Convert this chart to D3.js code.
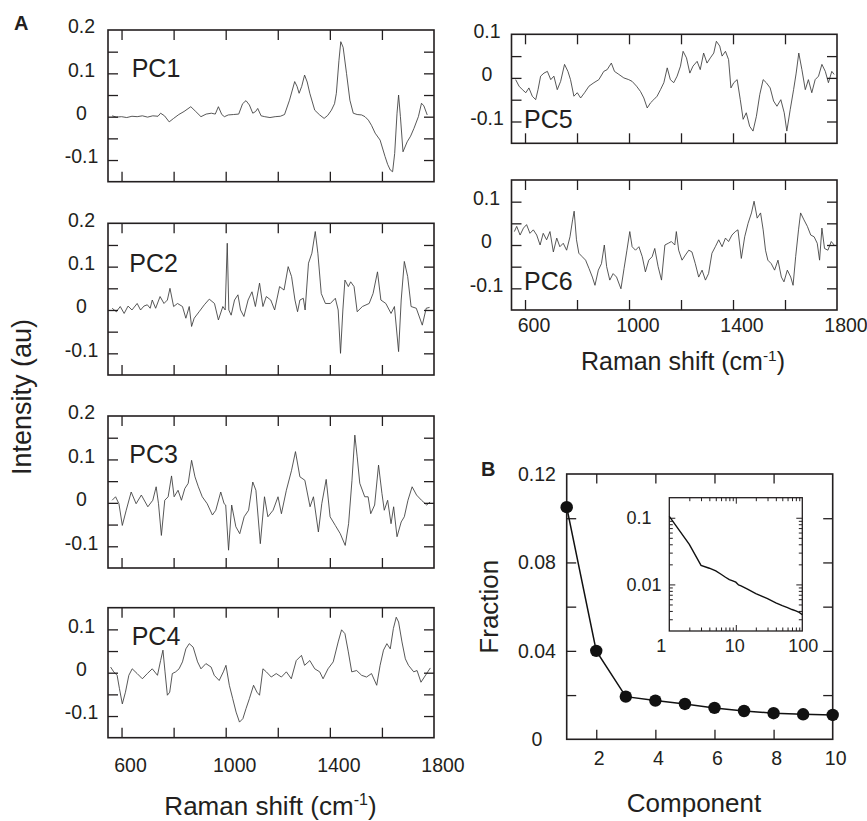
<!DOCTYPE html>
<html><head><meta charset="utf-8">
<script src="https://cdn.jsdelivr.net/npm/d3@7"></script>
<style>
body{margin:0;background:#fff;}
svg{display:block;font-family:"Liberation Sans",Arial,Helvetica,sans-serif;}
</style></head><body>
<svg id="chart" width="867" height="821"></svg>
<script>
// ---------- DATA ----------
// Spectra: [Raman shift (cm-1), intensity (au)]
const pc1 = [[564,0.002],[580,-0.001],[600,0.000],[620,-0.002],[640,0.001],[660,0.000],[680,0.002],[700,-0.001],[720,0.002],[740,0.001],
[750,0.008],[765,0.002],[783,-0.012],[800,-0.004],[820,0.005],[840,0.012],[866,0.023],[885,0.012],[905,0.000],[925,0.006],
[945,0.008],[960,0.006],[972,0.023],[985,0.005],[995,0.000],[1010,0.004],[1030,0.005],[1050,0.006],[1065,0.030],[1078,0.037],
[1091,0.027],[1104,0.008],[1115,0.012],[1123,0.019],[1136,0.002],[1150,0.000],[1170,-0.002],[1190,0.000],[1210,0.001],[1226,0.005],
[1245,0.038],[1265,0.081],[1274,0.070],[1282,0.054],[1292,0.070],[1303,0.096],[1313,0.080],[1323,0.054],[1342,0.015],[1361,0.004],
[1378,-0.004],[1392,0.003],[1406,0.015],[1418,0.030],[1425,0.054],[1435,0.130],[1442,0.173],[1451,0.160],[1464,0.100],[1477,0.038],
[1490,0.008],[1505,0.005],[1522,0.004],[1535,0.000],[1548,-0.008],[1560,-0.020],[1574,-0.038],[1593,-0.054],[1612,-0.092],[1622,-0.110],
[1632,-0.123],[1641,-0.127],[1649,-0.085],[1658,0.008],[1664,0.050],[1671,0.000],[1681,-0.081],[1697,-0.058],[1710,-0.045],[1723,-0.027],
[1740,0.000],[1752,0.031],[1761,0.025],[1774,0.004]];

const pc2 = [[564,0.004],[580,-0.004],[595,0.008],[610,-0.008],[625,0.009],[640,0.000],[660,0.015],[673,0.000],[686,0.009],[699,0.012],
[710,0.004],[718,0.023],[731,0.004],[748,0.031],[763,0.015],[776,0.023],[786,0.050],[800,0.008],[815,0.015],[834,0.008],
[847,-0.019],[860,0.008],[869,-0.038],[879,-0.019],[898,-0.004],[918,0.012],[937,0.025],[957,0.015],[972,-0.023],[989,0.008],
[998,0.000],[1006,0.154],[1012,0.000],[1021,-0.012],[1034,0.023],[1047,0.035],[1057,0.000],[1070,-0.015],[1086,0.023],[1101,0.042],
[1114,0.008],[1130,0.062],[1143,0.008],[1156,0.031],[1173,0.023],[1188,0.000],[1207,0.054],[1224,0.046],[1240,0.100],[1253,0.077],
[1266,0.023],[1276,-0.004],[1285,0.023],[1298,0.027],[1305,0.000],[1318,0.108],[1331,0.131],[1344,0.181],[1354,0.131],[1367,0.038],
[1383,0.015],[1402,0.015],[1421,0.027],[1432,0.000],[1441,-0.100],[1450,0.000],[1458,0.069],[1471,0.054],[1480,0.065],[1493,0.054],
[1505,-0.004],[1525,0.008],[1551,0.015],[1566,0.038],[1583,0.088],[1596,0.023],[1615,0.015],[1635,-0.008],[1648,0.008],[1664,-0.096],
[1674,0.023],[1686,0.112],[1699,0.077],[1712,0.008],[1732,0.004],[1755,-0.035],[1770,0.004],[1783,0.006]];

const pc3 = [[564,0.006],[577,0.014],[590,-0.002],[603,-0.052],[618,-0.017],[637,0.025],[656,-0.002],[676,0.018],[701,-0.009],[720,0.006],
[733,0.037],[742,-0.002],[753,-0.075],[766,0.006],[779,0.014],[792,0.062],[802,0.014],[817,0.029],[830,0.006],[843,0.033],
[856,0.045],[869,0.098],[882,0.060],[895,0.037],[910,0.014],[929,-0.002],[949,-0.028],[962,-0.017],[981,0.025],[994,-0.002],
[1000,-0.005],[1011,-0.109],[1023,-0.005],[1039,-0.055],[1054,-0.071],[1071,-0.032],[1088,-0.017],[1104,0.048],[1116,0.029],[1133,-0.094],
[1149,0.014],[1162,-0.032],[1182,-0.017],[1201,0.014],[1214,-0.025],[1233,0.029],[1253,0.075],[1268,0.118],[1285,0.060],[1304,0.052],
[1324,-0.009],[1337,0.014],[1356,-0.067],[1369,-0.002],[1386,0.054],[1401,-0.032],[1421,-0.052],[1440,-0.071],[1459,-0.098],[1472,-0.048],
[1485,0.052],[1496,0.156],[1505,0.106],[1515,0.045],[1534,0.014],[1547,0.014],[1557,-0.025],[1572,-0.005],[1587,0.087],[1600,0.022],
[1609,-0.017],[1622,0.006],[1635,-0.048],[1645,-0.009],[1658,-0.078],[1674,-0.044],[1686,-0.032],[1700,0.006],[1716,0.037],[1733,0.018],
[1752,0.006],[1772,-0.005],[1785,0.002]];

const pc4 = [[558,0.013],[570,0.002],[583,-0.006],[592,-0.037],[603,-0.072],[615,-0.045],[628,-0.006],[641,0.009],[660,-0.002],[680,-0.014],
[699,-0.002],[718,0.009],[738,-0.006],[750,0.028],[759,0.052],[767,0.002],[776,-0.052],[785,-0.045],[795,-0.002],[808,0.002],
[821,0.009],[834,0.025],[847,0.055],[860,0.067],[875,0.059],[892,0.025],[905,0.009],[924,0.021],[944,0.013],[956,-0.006],
[975,-0.018],[991,0.002],[1001,0.017],[1014,-0.029],[1027,-0.060],[1040,-0.091],[1053,-0.114],[1066,-0.106],[1078,-0.083],[1091,-0.060],
[1107,-0.029],[1120,-0.045],[1130,-0.052],[1143,0.009],[1156,0.002],[1175,-0.010],[1194,-0.002],[1214,-0.010],[1233,0.002],[1252,-0.014],
[1271,0.028],[1291,0.040],[1303,0.017],[1323,0.028],[1342,0.009],[1361,0.002],[1374,-0.014],[1393,0.009],[1413,0.025],[1432,0.071],
[1445,0.099],[1458,0.090],[1471,0.048],[1484,0.002],[1503,0.005],[1522,-0.006],[1541,-0.010],[1560,-0.002],[1580,-0.029],[1593,0.017],
[1606,0.052],[1619,0.067],[1632,0.055],[1644,0.102],[1655,0.128],[1664,0.117],[1677,0.071],[1690,0.032],[1702,0.017],[1722,0.002],
[1735,0.005],[1750,-0.022],[1763,-0.010],[1776,0.002],[1786,0.011]];

const pc5 = [[564,-0.004],[577,-0.019],[590,-0.027],[603,-0.034],[615,-0.023],[628,-0.042],[641,-0.050],[650,-0.027],[660,0.004],[673,0.011],
[686,0.015],[699,-0.004],[711,0.004],[724,-0.027],[737,-0.008],[752,0.031],[765,0.015],[775,-0.004],[788,-0.042],[801,-0.034],
[814,-0.046],[829,-0.034],[846,-0.019],[865,-0.011],[884,-0.004],[903,0.015],[916,0.019],[932,0.034],[944,0.015],[961,0.008],
[980,0.000],[999,-0.004],[1012,-0.008],[1029,-0.019],[1044,-0.031],[1057,-0.046],[1070,-0.069],[1083,-0.057],[1095,-0.050],[1108,-0.042],
[1121,-0.027],[1134,-0.011],[1147,0.023],[1159,-0.004],[1172,-0.011],[1185,0.004],[1198,0.027],[1208,0.061],[1221,0.046],[1234,0.011],
[1246,0.027],[1262,0.038],[1274,0.019],[1287,0.057],[1300,0.034],[1313,0.046],[1326,0.057],[1336,0.084],[1349,0.073],[1358,0.050],
[1371,0.061],[1383,0.042],[1392,-0.023],[1403,-0.011],[1416,-0.004],[1428,-0.050],[1439,-0.095],[1451,-0.080],[1464,-0.111],[1477,-0.122],
[1490,-0.088],[1503,-0.038],[1516,-0.004],[1528,-0.011],[1543,-0.023],[1556,-0.053],[1569,-0.065],[1584,-0.050],[1597,-0.080],[1607,-0.122],
[1620,-0.073],[1633,-0.027],[1643,0.011],[1653,0.057],[1665,0.019],[1678,-0.027],[1690,-0.004],[1703,-0.034],[1716,-0.004],[1729,0.004],
[1742,0.031],[1755,0.015],[1767,-0.011],[1780,0.015],[1789,0.008]];

const pc6 = [[559,0.031],[568,0.043],[581,0.023],[594,0.039],[606,0.047],[619,0.027],[632,0.035],[645,0.023],[658,0.000],[670,0.027],
[683,0.012],[696,0.031],[709,-0.016],[722,0.016],[734,-0.004],[747,0.004],[760,-0.012],[773,0.019],[783,0.058],[789,0.078],
[798,0.012],[807,-0.019],[820,-0.027],[833,-0.035],[846,-0.054],[859,-0.074],[869,-0.093],[882,-0.058],[894,-0.043],[905,0.000],
[914,-0.050],[926,-0.081],[939,-0.066],[952,-0.074],[969,-0.101],[981,-0.054],[992,-0.012],[1003,0.031],[1012,-0.004],[1025,-0.012],
[1038,-0.004],[1051,-0.027],[1063,-0.062],[1076,-0.035],[1089,-0.027],[1099,-0.008],[1112,-0.050],[1125,-0.081],[1138,0.000],[1151,0.004],
[1163,0.008],[1176,0.000],[1182,0.031],[1191,-0.012],[1204,-0.035],[1217,-0.023],[1230,-0.012],[1242,-0.016],[1255,-0.043],[1268,-0.074],
[1281,-0.058],[1294,-0.081],[1306,-0.066],[1319,-0.019],[1332,-0.004],[1345,0.012],[1358,-0.004],[1371,0.016],[1383,0.008],[1396,0.023],
[1409,0.031],[1419,0.035],[1432,-0.031],[1445,0.019],[1458,0.050],[1471,0.074],[1481,0.101],[1493,0.062],[1506,0.074],[1516,0.035],
[1525,-0.012],[1534,-0.035],[1547,-0.043],[1560,-0.058],[1573,-0.035],[1586,-0.074],[1596,-0.085],[1609,-0.058],[1622,-0.074],[1631,-0.093],
[1641,-0.027],[1652,0.035],[1660,0.074],[1673,0.058],[1686,0.043],[1699,0.023],[1712,0.019],[1724,0.004],[1733,-0.035],[1742,0.039],
[1752,-0.008],[1765,-0.012],[1778,0.008],[1789,0.000]];

// Panel B: explained variance fraction
const components = [1,2,3,4,5,6,7,8,9,10];
const fractions = [0.105,0.040,0.0193,0.0175,0.0160,0.0142,0.0128,0.0118,0.0113,0.0110];
// Inset (log-log) – all components
const insetComponents = [1,2,3,4,5,6,7,8,9,10,11,12,15,20,25,30,40,50,60,70,80,90,100];
const insetFractions = [0.105,0.040,0.0193,0.0175,0.0160,0.0142,0.0128,0.0118,0.0113,0.0108,0.0098,0.0095,0.0085,0.0073,0.0066,0.0061,0.0053,0.0048,0.0045,0.0042,0.0040,0.0038,0.0035];

// Ticks / labels
const shiftTicks = [600,800,1000,1200,1400,1600];
const shiftTickLabels = [600,1000,1400,1800];
const intensityTicksTall = [-0.1,-0.05,0,0.05,0.1,0.15];
const intensityTicksMid = [-0.1,-0.05,0,0.05,0.1];
const intensityTicksShort = [-0.1,-0.05,0,0.05];
const intensityLabelsTall = [0.2,0.1,0,-0.1];
const intensityLabelsMid = [0.1,0,-0.1];
const componentTicks = [2,4,6,8];
const componentTickLabels = [2,4,6,8,10];
const fractionTicks = [0.02,0.04,0.06,0.08,0.10];
const fractionTickLabels = [0,0.04,0.08,0.12];
const insetXLabels = [1,10,100];
const insetYLabels = [0.1,0.01];

// ---------- DRAW ----------
const svg = d3.select("#chart");
const INK = "#231f20";
const shiftDomain = [548,1800];

function inwardTicks(g, x, y, xt, yt, len, box){
  const mk = (axis, tr) => g.append("g").attr("transform", tr).call(axis.tickSize(-len).tickFormat(""));
  mk(d3.axisBottom(x).tickValues(xt), `translate(0,${box.y1})`);
  mk(d3.axisTop(x).tickValues(xt), `translate(0,${box.y0})`);
  mk(d3.axisLeft(y).tickValues(yt), `translate(${box.x0},0)`);
  mk(d3.axisRight(y).tickValues(yt), `translate(${box.x1},0)`);
  g.selectAll(".domain").remove();
  g.selectAll(".tick line").attr("stroke", INK).attr("stroke-width", 1.3);
}

function frame(g, box, w){
  g.append("rect").attr("x", box.x0).attr("y", box.y0)
    .attr("width", box.x1 - box.x0).attr("height", box.y1 - box.y0)
    .attr("fill", "none").attr("stroke", INK).attr("stroke-width", w || 1.6);
}

function spectrumPanel(c){
  const box = c.box;
  const x = d3.scaleLinear().domain(shiftDomain).range([box.x0, box.x1]);
  const y = d3.scaleLinear().domain(c.yDomain).range([box.y1, box.y0]);
  const g = svg.append("g");
  g.append("path").datum(c.data)
    .attr("d", d3.line().x(d => x(d[0])).y(d => y(d[1])))
    .attr("fill", "none").attr("stroke", "#3a3a3a").attr("stroke-width", 0.85)
    .attr("stroke-linejoin", "round");
  inwardTicks(g, x, y, shiftTicks, c.yTicks, 10, box);
  frame(g, box);
  g.selectAll(".ylab").data(c.yLabels).join("text")
    .attr("x", c.yLabelX).attr("y", d => y(d) + 3.3)
    .attr("text-anchor", "middle").attr("font-size", 19.5).attr("fill", INK)
    .text(d => d);
  g.append("text").attr("x", c.label[1]).attr("y", c.label[2])
    .attr("font-size", 25).attr("fill", INK).text(c.label[0]);
  if (c.xLabelY){
    g.selectAll(".xlab").data(shiftTickLabels).join("text")
      .attr("x", d => x(d) + 9).attr("y", c.xLabelY)
      .attr("text-anchor", "middle").attr("font-size", 19.5).attr("fill", INK)
      .text(d => d);
  }
}

const L = {x0:108, x1:434}, R = {x0:511.5, x1:837};
spectrumPanel({box:{...L, y0:30, y1:181.7}, yDomain:[-0.15,0.2], data:pc1, yTicks:intensityTicksTall, yLabels:intensityLabelsTall, yLabelX:81.5, label:["PC1",131.7,77.3]});
spectrumPanel({box:{...L, y0:223.3, y1:375}, yDomain:[-0.15,0.2], data:pc2, yTicks:intensityTicksTall, yLabels:intensityLabelsTall, yLabelX:81.5, label:["PC2",129.3,271.7]});
spectrumPanel({box:{...L, y0:416, y1:568}, yDomain:[-0.15,0.2], data:pc3, yTicks:intensityTicksTall, yLabels:intensityLabelsTall, yLabelX:81.5, label:["PC3",129.3,462.7]});
spectrumPanel({box:{...L, y0:607.7, y1:737.7}, yDomain:[-0.15,0.15], data:pc4, yTicks:intensityTicksMid, yLabels:intensityLabelsMid, yLabelX:81.5, label:["PC4",131.7,645], xLabelY:771.7});
spectrumPanel({box:{...R, y0:34.3, y1:143.3}, yDomain:[-0.15,0.1], data:pc5, yTicks:intensityTicksShort, yLabels:intensityLabelsMid, yLabelX:487, label:["PC5",524,127.7]});
spectrumPanel({box:{...R, y0:180, y1:310}, yDomain:[-0.15,0.15], data:pc6, yTicks:intensityTicksMid, yLabels:intensityLabelsMid, yLabelX:486.5, label:["PC6",524,290], xLabelY:331.7});

// Axis titles for A
function ramanTitle(cx, by, fs){
  const t = svg.append("text").attr("x", cx).attr("y", by).attr("text-anchor", "middle")
    .attr("font-size", fs).attr("fill", INK);
  t.append("tspan").text("Raman shift (cm");
  t.append("tspan").attr("dy", -fs*0.38).attr("font-size", fs*0.62).text("-1");
  t.append("tspan").attr("dy", fs*0.38).text(")");
}
ramanTitle(270.5, 815, 26);
ramanTitle(683, 370, 25);
svg.append("text").attr("transform", "translate(31,397) rotate(-90)")
  .attr("text-anchor", "middle").attr("font-size", 27).attr("fill", INK).text("Intensity (au)");

// Panel letters
svg.append("text").attr("x", 14).attr("y", 29.5).attr("font-size", 20).attr("font-weight", "bold").attr("fill", INK).text("A");
svg.append("text").attr("x", 481).attr("y", 475.5).attr("font-size", 20).attr("font-weight", "bold").attr("fill", INK).text("B");

// ---------- Panel B ----------
(function(){
  const box = {x0:566.7, x1:832.7, y0:474, y1:739.3};
  const x = d3.scaleLinear().domain([1,10]).range([box.x0, box.x1]);
  const y = d3.scaleLinear().domain([0,0.12]).range([box.y1, box.y0]);
  const g = svg.append("g");
  inwardTicks(g, x, y, componentTicks, fractionTicks, 9.5, box);
  frame(g, box);
  const pts = components.map((c,i) => [c, fractions[i]]);
  g.append("path").datum(pts).attr("d", d3.line().x(d => x(d[0])).y(d => y(d[1])))
    .attr("fill", "none").attr("stroke", "#111").attr("stroke-width", 1.5);
  g.selectAll(".pt").data(pts).join("circle")
    .attr("cx", d => x(d[0])).attr("cy", d => y(d[1])).attr("r", 6.2).attr("fill", "#111");
  g.selectAll(".bx").data(componentTickLabels).join("text")
    .attr("x", d => x(d) + 3).attr("y", 765).attr("text-anchor", "middle")
    .attr("font-size", 19.5).attr("fill", INK).text(d => d);
  g.selectAll(".by").data(fractionTickLabels).join("text")
    .attr("x", 537).attr("y", d => y(d) + 7).attr("text-anchor", "middle")
    .attr("font-size", 19.5).attr("fill", INK).text(d => d);
  g.append("text").attr("x", 694).attr("y", 811.5).attr("text-anchor", "middle")
    .attr("font-size", 26).attr("fill", INK).text("Component");
  g.append("text").attr("transform", "translate(498,606.7) rotate(-90)")
    .attr("text-anchor", "middle").attr("font-size", 26).attr("fill", INK).text("Fraction");

  // inset
  const ib = {x0:669.3, x1:802.3, y0:497.7, y1:631};
  const xi = d3.scaleLog().domain([1,100]).range([ib.x0, ib.x1]);
  const yi = d3.scaleLog().domain([0.002,0.2]).range([ib.y1, ib.y0]);
  const gi = svg.append("g");
  gi.append("rect").attr("x", ib.x0).attr("y", ib.y0).attr("width", ib.x1-ib.x0).attr("height", ib.y1-ib.y0).attr("fill", "#fff");
  const xMinor = [2,3,4,5,6,7,8,9,20,30,40,50,60,70,80,90];
  const yMinor = [0.003,0.004,0.005,0.006,0.007,0.008,0.009,0.02,0.03,0.04,0.05,0.06,0.07,0.08,0.09];
  inwardTicks(gi, xi, yi, [10], [0.01,0.1], 6, ib);
  inwardTicks(gi, xi, yi, xMinor, yMinor, 3.5, ib);
  gi.selectAll(".tick line").attr("stroke-width", 1);
  frame(gi, ib, 1.3);
  const ipts = insetComponents.map((c,i) => [c, insetFractions[i]]);
  gi.append("path").datum(ipts).attr("d", d3.line().x(d => xi(d[0])).y(d => yi(d[1])))
    .attr("fill", "none").attr("stroke", "#111").attr("stroke-width", 1.4);
  const ixOff = {1:-8, 10:-1, 100:1};
  gi.selectAll(".ix").data(insetXLabels).join("text")
    .attr("x", d => xi(d) + ixOff[d]).attr("y", 651.7).attr("text-anchor", "middle")
    .attr("font-size", 18).attr("fill", INK).text(d => d);
  gi.selectAll(".iy").data(insetYLabels).join("text")
    .attr("x", 626.5).attr("y", d => yi(d) + 6.5).attr("text-anchor", "start")
    .attr("font-size", 18).attr("fill", INK).text(d => d);
})();
</script>
</body></html>
